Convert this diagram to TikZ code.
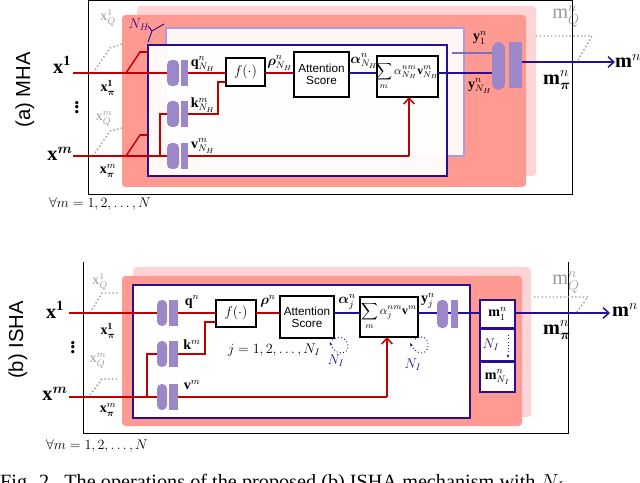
\documentclass[tikz,border=0pt]{standalone}
\usepackage{fontspec}
\usepackage{amsmath,bm}
\setmainfont{Liberation Serif}
\newfontfamily\sansf{Liberation Sans}
\usetikzlibrary{arrows.meta}
\definecolor{rd}{HTML}{C00000}
\definecolor{bl}{HTML}{2A0E91}
\definecolor{pu}{HTML}{9C87C9}
\definecolor{sal}{HTML}{FF9A93}
\definecolor{lpk}{HTML}{FFD4D4}
\definecolor{lav}{HTML}{A99BDD}
\definecolor{gr}{HTML}{9A9A9A}
\begin{document}
\begin{tikzpicture}[x=0.03cm,y=-0.03cm,
 rl/.style={draw=rd,line width=1.3pt},
 bll/.style={draw=bl,line width=1.3pt},
 box/.style={draw=black,line width=0.9pt,fill=white},
 lab/.style={inner sep=0pt,font=\large},
 big/.style={inner sep=0pt,font=\LARGE},
 gl/.style={inner sep=0pt,text=gr,font=\large},
 dot/.style={draw=gr,line width=1.2pt,dotted},
 arr/.style={-{Straight Barb[length=5pt,width=9pt]},line width=1.3pt}]
\useasboundingbox (0,0) rectangle (640,483);
\clip (0,0) rectangle (640,483);
% ================= (a) MHA =================
\draw[line width=0.6pt] (88,0) rectangle (572,194);
\fill[lpk,rounded corners=3pt] (137,6) rectangle (536,176);
\fill[sal,rounded corners=3pt] (122,15) rectangle (526,187);
\fill[white,fill opacity=0.9,draw=lav,line width=1.3pt] (166,28) rectangle (464,156);
\fill[white,fill opacity=0.95] (148,45) rectangle (447,176);
\draw[bll] (148,45) rectangle (447,176);
\node[rotate=90,font=\sansf\LARGE] (ta) at (25,90) {(a) MHA};
\node[big] (x1a) at (62,65) {$\mathbf{x}^{\mathbf 1}$};
\node[big] (xma) at (60,154) {$\mathbf{x}^{\bm m}$};
\node[font=\LARGE\bfseries] (da) at (77,104) {$\vdots$};
\node[lab] (xp1a) at (108,88) {$\mathbf{x}_{\bm\pi}^{\mathbf 1}$};
\node[lab] (xpma) at (108,171) {$\mathbf{x}_{\bm\pi}^{m}$};
\node[gl] (xq1a) at (108,18) {$\mathrm{x}_Q^1$};
\node[gl] (xqma) at (104,119) {$\mathrm{x}_Q^m$};
\node[lab,text=bl] (nha) at (139,25) {$N_H$};
\draw[bl,line width=0.8pt] (148,42)--(152,31)--(164,24) (152,31)--(148,26);
\draw[dot] (93,73)--(110,48)--(122,44);
\draw[dot] (93,156)--(110,131)--(122,128);
\draw[dot,draw=lav] (150,42)--(160,32);
\draw[rl] (73,73)--(167,73) (73,156)--(167,156);
\draw[rl] (126,73)--(140,52)--(148,52);
\draw[rl] (126,156)--(140,135)--(148,135);
\draw[rl] (160,156)--(160,114)--(167,114);
\foreach \y in {73,114,156}{\fill[pu,rounded corners=4pt] (167,\y-13) rectangle (179,\y+13); \fill[pu] (181,\y-13) rectangle (188,\y+13);}
\node[lab] (qa) at (203,64) {$\mathbf{q}^{n}_{N_H}$};
\node[lab] (ka) at (203,105) {$\mathbf{k}^{m}_{N_H}$};
\node[lab] (va) at (203,146) {$\mathbf{v}^{m}_{N_H}$};
\draw[box] (226,58) rectangle (265,86);
\node[font=\large] (fta) at (245.5,72) {$f(\cdot)$};
\draw[rl] (188,73)--(226,73) (188,114)--(218,114)--(218,82)--(226,82);
\draw[rl] (265,73)--(294,73);
\node[lab] (rha) at (280,63) {$\bm\rho^{n}_{N_H}$};
\draw[box] (294,52) rectangle (349,97);
\node[font=\sansf,align=center] (asa) at (321.5,74.5) {Attention\\[-2pt]Score};
\draw[bll] (349,73)--(377,73);
\node[lab] (ala) at (364,61) {$\bm\alpha^{n}_{N_H}$};
\draw[box] (377,56) rectangle (438,97);
\node[font=\normalsize] (sma) at (407,76) {$\displaystyle\sum_m \alpha^{nm}_{N_H}\mathbf{v}^m_{N_H}$};
\draw[rl] (188,156)--(409,156);
\draw[rl,arr,draw=rd] (409,156)--(409,97);
\draw[bll] (438,73)--(493,73);
\draw[draw=bl!60,line width=1.3pt] (452,53)--(493,53);
\fill[pu,rounded corners=6pt] (492,42) rectangle (505,90);
\fill[pu] (509,42) rectangle (522,88);
\node[lab] (y1a) at (480,38) {$\mathbf{y}^{n}_{1}$};
\node[lab] (yna) at (480,86) {$\mathbf{y}^{n}_{N_H}$};
\draw[bll,arr,draw=bl] (522,62)--(615,62);
\node[big] (mna) at (628,61) {$\mathbf{m}^{n}$};
\node[big] (mpa) at (557,80) {$\mathbf{m}^{n}_{\bm\pi}$};
\node[gl,font=\LARGE] (mqa) at (566,16) {$\mathrm{m}^{n}_{Q}$};
\draw[dot] (536,36)--(592,36)--(578,60);
\node[lab] (fa1) at (100,204) {$\forall m=1,2,\ldots,N$};
% ================= (b) ISHA =================
\draw[line width=0.6pt] (83,262)--(83,433)--(568,433)--(568,262);
\fill[lpk,rounded corners=3pt] (133,267) rectangle (531,417);
\fill[sal,rounded corners=3pt] (122,276) rectangle (522,426);
\fill[white] (133,285) rectangle (470,418);
\draw[bll] (133,285) rectangle (470,418);
\node[rotate=90,font=\sansf\LARGE] (tb) at (18,340) {(b) ISHA};
\node[big] (x1b) at (55,310) {$\mathbf{x}^{\mathbf 1}$};
\node[big] (xmb) at (55,394) {$\mathbf{x}^{\bm m}$};
\node[font=\LARGE\bfseries] (db) at (73,344) {$\vdots$};
\node[lab] (xp1b) at (108,331) {$\mathbf{x}_{\bm\pi}^{\mathbf 1}$};
\node[lab] (xpmb) at (108,410) {$\mathbf{x}_{\bm\pi}^{m}$};
\node[gl] (xq1b) at (100,282) {$\mathrm{x}_Q^1$};
\node[gl] (xqmb) at (98,361) {$\mathrm{x}_Q^m$};
\draw[dot] (90,313)--(102,293)--(118,293);
\draw[dot] (90,395)--(102,379)--(118,379);
\draw[rl] (69,313)--(157,313) (69,397)--(157,397);
\draw[rl] (147,397)--(147,354)--(157,354);
\foreach \y in {313,354,397}{\fill[pu,rounded corners=4pt] (157,\y-13) rectangle (167,\y+13); \fill[pu] (169,\y-13) rectangle (178,\y+13);}
\node[lab] (qb) at (192,302) {$\mathbf{q}^{n}$};
\node[lab] (kb) at (192,345) {$\mathbf{k}^{m}$};
\node[lab] (vb) at (192,385) {$\mathbf{v}^{m}$};
\draw[box] (216,300) rectangle (256,327);
\node[font=\large] (ftb) at (236,313) {$f(\cdot)$};
\draw[rl] (178,313)--(216,313) (178,354)--(205,354)--(205,322)--(216,322);
\draw[rl] (256,313)--(280,313);
\node[lab] (rhb) at (268,301) {$\bm\rho^{n}$};
\draw[box,line width=1.2pt] (280,296) rectangle (334,338);
\node[font=\sansf,align=center] (asb) at (307,317) {Attention\\[-2pt]Score};
\node[lab] (jb) at (274,350) {$j=1,2,\ldots,N_I$};
\draw[bll] (334,313)--(360,313);
\node[lab] (alb) at (347,302) {$\bm\alpha^{n}_{j}$};
\draw[box] (360,297) rectangle (418,337);
\node[font=\normalsize] (smb) at (389,316) {$\displaystyle\sum_m \alpha^{nm}_{j}\mathbf{v}^m$};
\draw[rl] (178,397)--(387,397);
\draw[rl,arr,draw=rd] (387,397)--(387,337);
\draw[bl,dotted,line width=0.8pt,-{Stealth[length=3pt]}] (332,340) .. controls (347,330) and (354,352) .. (342,353) .. controls (335,353) and (332,348) .. (330,342);
\node[lab,text=bl] (n1b) at (336,361) {$N_I$};
\draw[bl,dotted,line width=0.8pt,-{Stealth[length=3pt]}] (415,339) .. controls (430,330) and (432,352) .. (422,353) .. controls (416,353) and (413,348) .. (410,343);
\node[lab,text=bl] (n2b) at (413,365) {$N_I$};
\draw[bll] (418,313)--(480,313);
\node[lab] (yjb) at (428,301) {$\mathbf{y}^{n}_{j}$};
\fill[pu,rounded corners=4pt] (437,300) rectangle (448,328);
\fill[pu] (451,300) rectangle (458,328);
\draw[bll,fill=white] (480,300) rectangle (515,328);
\draw[bll,fill=white] (480,329) rectangle (515,361);
\draw[bll,fill=white] (480,362) rectangle (515,392);
\node[font=\large] (m1b) at (497.5,314) {$\mathbf{m}^{n}_{1}$};
\node[text=bl,font=\large] (nib) at (491,345) {$N_I$};
\draw[bl,dotted,line width=0.8pt,-{Stealth[length=3pt]}] (508,335)--(508,358);
\node[font=\large] (mnib) at (497.5,377) {$\mathbf{m}^{n}_{N_I}$};
\draw[bll,arr,draw=bl] (515,313)--(610,313);
\node[big] (mnb) at (625,310) {$\mathbf{m}^{n}$};
\node[big] (mpb) at (557,330) {$\mathbf{m}^{n}_{\bm\pi}$};
\node[gl,font=\LARGE] (mqb) at (566,282) {$\mathrm{m}^{n}_{Q}$};
\draw[dot] (534,297)--(588,297)--(576,313);
\node[lab] (fb1) at (97,446) {$\forall m=1,2,\ldots,N$};
\node[anchor=west,font=\LARGE,inner sep=0pt] (cap) at (0,484) {Fig. 2.\ \ The operations of the proposed (b) ISHA mechanism with $N_I$};
\end{tikzpicture}
\end{document}
